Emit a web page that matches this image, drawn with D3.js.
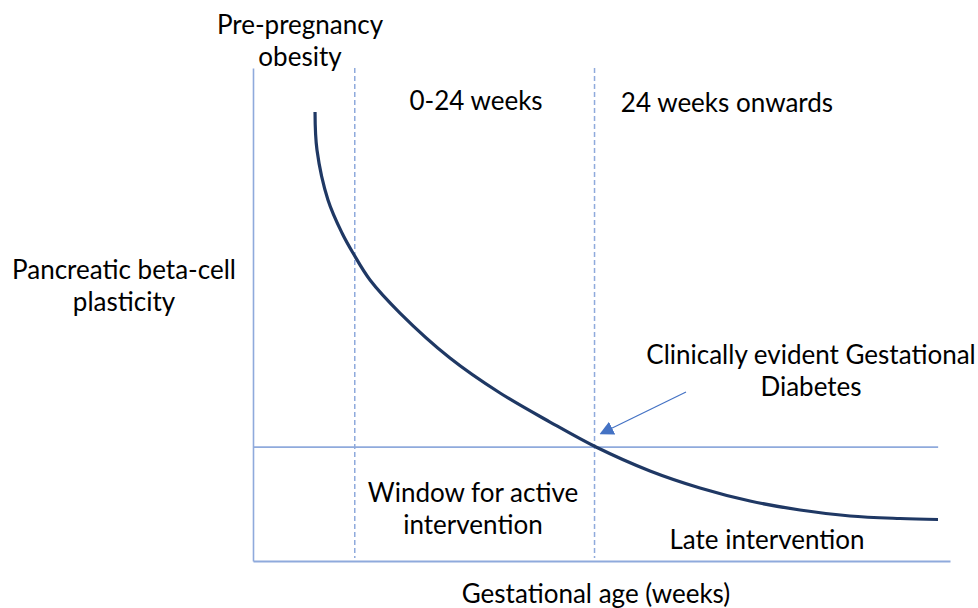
<!DOCTYPE html>
<html>
<head>
<meta charset="utf-8">
<script src="https://cdn.jsdelivr.net/npm/d3@7"></script>
<style>
  html, body { margin: 0; padding: 0; background: #fff; }
  svg { display: block; }
  text { font-family: Lato, "Open Sans", sans-serif; fill: #000; }
</style>
</head>
<body>
<svg id="chart" width="978" height="608"></svg>
<script>
// ---- data (abstract units, 0..100 on both axes) ----
const curveX = [8.90, 9.18, 10.76, 12.77, 14.35, 16.79, 21.09, 28.26, 35.44, 42.61, 49.21, 56.96, 64.13, 71.31, 78.48, 85.65, 92.83, 98.28];
const curveY = [91.08, 83.37, 73.23, 66.53, 62.47, 57.00, 50.30, 41.18, 34.08, 28.19, 23.12, 18.26, 14.81, 12.17, 10.34, 9.13, 8.62, 8.42];
const phaseBoundaries = [14.6, 49.0];      // dashed verticals
const thresholdY = [23.1];                 // horizontal threshold line
const thresholdEnd = 98.3;
const yAxisLabel = ["Pancreatic beta-cell", "plasticity"];
const xAxisLabel = "Gestational age (weeks)";
const phaseLabels = [
  { lines: ["Pre-pregnancy", "obesity"], x: 300, y: 34 },
  { lines: ["0-24 weeks"], x: 476, y: 110 },
  { lines: ["24 weeks onwards"], x: 727, y: 112 }
];
const regionLabels = [
  { lines: ["Window for active", "intervention"], x: 473, y: 502 },
  { lines: ["Late intervention"], x: 767, y: 549 }
];
const annotation = { lines: ["Clinically evident Gestational", "Diabetes"], x: 811, y: 364 };

// ---- layout ----
const svg = d3.select("#chart");
const mLeft = 253, mRight = 950, mTop = 68, mBottom = 561;
const x = d3.scaleLinear().domain([0, 100]).range([mLeft, mRight]);
const y = d3.scaleLinear().domain([0, 100]).range([mBottom, mTop]);

const axisColor = "#8faadc";
const fontSize = 26;
const lineH = 31.5;

// axes (no ticks)
const xAxis = d3.axisBottom(x).tickValues([]).tickSizeOuter(0);
const yAxis = d3.axisLeft(y).tickValues([]).tickSizeOuter(0);
svg.append("g").attr("transform", `translate(0,${mBottom})`).call(xAxis)
  .select(".domain").attr("stroke", axisColor).attr("stroke-width", 1.8);
svg.append("g").attr("transform", `translate(${mLeft},0)`).call(yAxis)
  .select(".domain").attr("stroke", axisColor).attr("stroke-width", 1.6);

// threshold line
svg.selectAll("line.threshold").data(thresholdY).enter().append("line")
  .attr("class", "threshold")
  .attr("x1", x(0)).attr("x2", x(thresholdEnd))
  .attr("y1", d => y(d)).attr("y2", d => y(d))
  .attr("stroke", axisColor).attr("stroke-width", 1.7);

// dashed phase boundaries
svg.selectAll("line.phase").data(phaseBoundaries).enter().append("line")
  .attr("class", "phase")
  .attr("x1", d => x(d)).attr("x2", d => x(d))
  .attr("y1", y(100)).attr("y2", y(0.6))
  .attr("stroke", axisColor).attr("stroke-width", 1.5)
  .attr("stroke-dasharray", "5,3");

// curve
const pts = curveX.map((d, i) => [d, curveY[i]]);
const line = d3.line().x(d => x(d[0])).y(d => y(d[1])).curve(d3.curveCatmullRom.alpha(0.5));
svg.append("path").datum(pts).attr("d", line)
  .attr("fill", "none").attr("stroke", "#1f3864").attr("stroke-width", 3.2)
  .attr("stroke-linecap", "butt");

// arrow
const defs = svg.append("defs");
defs.append("marker").attr("id", "arrowhead")
  .attr("viewBox", "0 0 10 10").attr("refX", 8).attr("refY", 5)
  .attr("markerWidth", 14).attr("markerHeight", 14)
  .attr("markerUnits", "userSpaceOnUse").attr("orient", "auto")
  .append("path").attr("d", "M0,0 L10,5 L0,10 Z").attr("fill", "#4472c4");
svg.append("line")
  .attr("x1", 686).attr("y1", 392).attr("x2", 602).attr("y2", 433)
  .attr("stroke", "#4472c4").attr("stroke-width", 1.2)
  .attr("marker-end", "url(#arrowhead)");

// text helper
function block(lines, cx, cy) {
  const t = svg.append("text").attr("text-anchor", "middle")
    .attr("font-size", fontSize);
  lines.forEach((s, i) => {
    t.append("tspan").attr("x", cx).attr("y", cy + i * lineH).text(s);
  });
}
phaseLabels.forEach(d => block(d.lines, d.x, d.y));
regionLabels.forEach(d => block(d.lines, d.x, d.y));
block(annotation.lines, annotation.x, annotation.y);
block(yAxisLabel, 124, 279);
block([xAxisLabel], 596, 603);
</script>
</body>
</html>
